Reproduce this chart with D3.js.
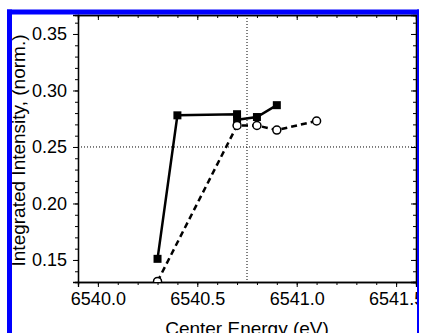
<!DOCTYPE html>
<html>
<head>
<meta charset="utf-8">
<script src="https://d3js.org/d3.v7.min.js"></script>
<style>
    body { margin: 0; background: #ffffff; }
    text {
        font-family: "Liberation Sans", Arial, sans-serif;
        fill: #000000;
    }
    .tick-label { font-size: 18px; }
    .axis-title { font-size: 19px; }
</style>
</head>
<body>
<div id="container"></div>
<script>

    // data
    const solidEnergy = [6540.3, 6540.4, 6540.7, 6540.7, 6540.8, 6540.9];
    const solidIntensity = [0.151, 0.278, 0.279, 0.274, 0.2765, 0.287];
    const openEnergy = [6540.3, 6540.7, 6540.8, 6540.9, 6541.1];
    const openIntensity = [0.131, 0.269, 0.269, 0.265, 0.273];

    const xMajorTicks = [6540.0, 6540.5, 6541.0, 6541.5];
    const yMajorTicks = [0.15, 0.20, 0.25, 0.30, 0.35];
    const refEnergy = 6540.75;
    const refIntensity = 0.25;

    const xDomain = [6539.9, 6541.6];
    const yDomain = [0.1305, 0.3668];

    const W = 422, H = 333;
    const plot = {left: 78, right: 416, top: 15, bottom: 282};

    const svg = d3.select("#container")
        .append("svg")
        .attr("width", W)
        .attr("height", H);

    const x = d3.scaleLinear().domain(xDomain).range([plot.left, plot.right]);
    const y = d3.scaleLinear().domain(yDomain).range([plot.bottom, plot.top]);

    // minor ticks every 0.1 eV and 0.01
    const xMinor = d3.range(6539.9, 6541.61, 0.1).map(d => +d.toFixed(1));
    const yMinor = d3.range(0.14, 0.3601, 0.01).map(d => +d.toFixed(2));

    const fmtX = d3.format(".1f");
    const fmtY = d3.format(".2f");

    // clip for the data
    svg.append("clipPath").attr("id", "plotclip")
        .append("rect")
        .attr("x", plot.left).attr("y", plot.top)
        .attr("width", plot.right - plot.left)
        .attr("height", plot.bottom - plot.top);

    // reference dotted lines
    svg.append("line")
        .attr("x1", plot.left).attr("x2", plot.right)
        .attr("y1", y(refIntensity)).attr("y2", y(refIntensity))
        .attr("stroke", "#000").attr("stroke-width", 1)
        .attr("stroke-dasharray", "1,2");
    svg.append("line")
        .attr("x1", x(refEnergy)).attr("x2", x(refEnergy))
        .attr("y1", plot.top).attr("y2", plot.bottom)
        .attr("stroke", "#000").attr("stroke-width", 1)
        .attr("stroke-dasharray", "1,2");

    // axes: left/bottom outward, right/top inward
    const axisBottom = d3.axisBottom(x).tickValues(xMajorTicks).tickFormat(fmtX).tickSize(5).tickPadding(5);
    const gB = svg.append("g").attr("transform", `translate(0,${plot.bottom})`).call(axisBottom);
    svg.append("g").attr("transform", `translate(0,${plot.bottom})`)
        .call(d3.axisBottom(x).tickValues(xMinor).tickFormat("").tickSize(3));

    const gL = svg.append("g").attr("transform", `translate(${plot.left},0)`)
        .call(d3.axisLeft(y).tickValues(yMajorTicks).tickFormat(fmtY).tickSize(5).tickPadding(6));
    svg.append("g").attr("transform", `translate(${plot.left},0)`)
        .call(d3.axisLeft(y).tickValues(yMinor).tickFormat("").tickSize(3));

    svg.append("g").attr("transform", `translate(0,${plot.top})`)
        .call(d3.axisTop(x).tickValues(xMajorTicks).tickFormat("").tickSize(-5));
    svg.append("g").attr("transform", `translate(0,${plot.top})`)
        .call(d3.axisTop(x).tickValues(xMinor).tickFormat("").tickSize(-3));

    svg.append("g").attr("transform", `translate(${plot.right},0)`)
        .call(d3.axisRight(y).tickValues(yMajorTicks).tickFormat("").tickSize(-5));
    svg.append("g").attr("transform", `translate(${plot.right},0)`)
        .call(d3.axisRight(y).tickValues(yMinor).tickFormat("").tickSize(-3));

    svg.selectAll(".domain").attr("stroke", "#000").attr("stroke-width", 1.3);
    svg.selectAll(".tick line").attr("stroke", "#000").attr("stroke-width", 1);
    svg.selectAll(".tick text")
        .attr("class", "tick-label")
        .style("font-family", null).style("font-size", "18px")
        .attr("fill", "#000");
    gL.selectAll(".domain"); gB.selectAll(".domain");

    // open circles, dashed
    const openData = openEnergy.map((e, i) => ({e: e, v: openIntensity[i]}));
    const solidData = solidEnergy.map((e, i) => ({e: e, v: solidIntensity[i]}));

    const line = d3.line().x(d => x(d.e)).y(d => y(d.v));

    const data = svg.append("g").attr("clip-path", "url(#plotclip)");

    data.append("path")
        .datum(openData)
        .attr("d", line)
        .attr("fill", "none")
        .attr("stroke", "#000")
        .attr("stroke-width", 2.5)
        .attr("stroke-dasharray", "6,4");

    data.append("path")
        .datum(solidData)
        .attr("d", line)
        .attr("fill", "none")
        .attr("stroke", "#000")
        .attr("stroke-width", 2.5);

    data.selectAll("rect.sq")
        .data(solidData)
        .join("rect")
        .attr("class", "sq")
        .attr("x", d => x(d.e) - 4)
        .attr("y", d => y(d.v) - 4)
        .attr("width", 8)
        .attr("height", 8)
        .attr("fill", "#000");

    data.selectAll("circle.op")
        .data(openData)
        .join("circle")
        .attr("class", "op")
        .attr("cx", d => x(d.e))
        .attr("cy", d => y(d.v))
        .attr("r", 4)
        .attr("fill", "#fff")
        .attr("stroke", "#000")
        .attr("stroke-width", 1.5);

    // axis titles
    svg.append("text")
        .attr("class", "axis-title")
        .attr("x", 247)
        .attr("y", 335)
        .attr("text-anchor", "middle")
        .text("Center Energy (eV)");

    svg.append("text")
        .attr("class", "axis-title")
        .attr("transform", `translate(25,${(plot.top + plot.bottom) / 2 + 2}) rotate(-90)`)
        .attr("text-anchor", "middle")
        .text("Integrated Intensity, (norm.)");

    // blue frame
    svg.append("rect").attr("x", 7).attr("y", 9.5).attr("width", 5).attr("height", H).attr("fill", "#0000ff");
    svg.append("rect").attr("x", 7).attr("y", 9.5).attr("width", 412).attr("height", 5).attr("fill", "#0000ff");
    svg.append("rect").attr("x", 419).attr("y", 0).attr("width", 3).attr("height", H).attr("fill", "#ffffff");
    svg.append("rect").attr("x", 417).attr("y", 9.5).attr("width", 2).attr("height", H).attr("fill", "#0000ff");

</script>
</body>
</html>
